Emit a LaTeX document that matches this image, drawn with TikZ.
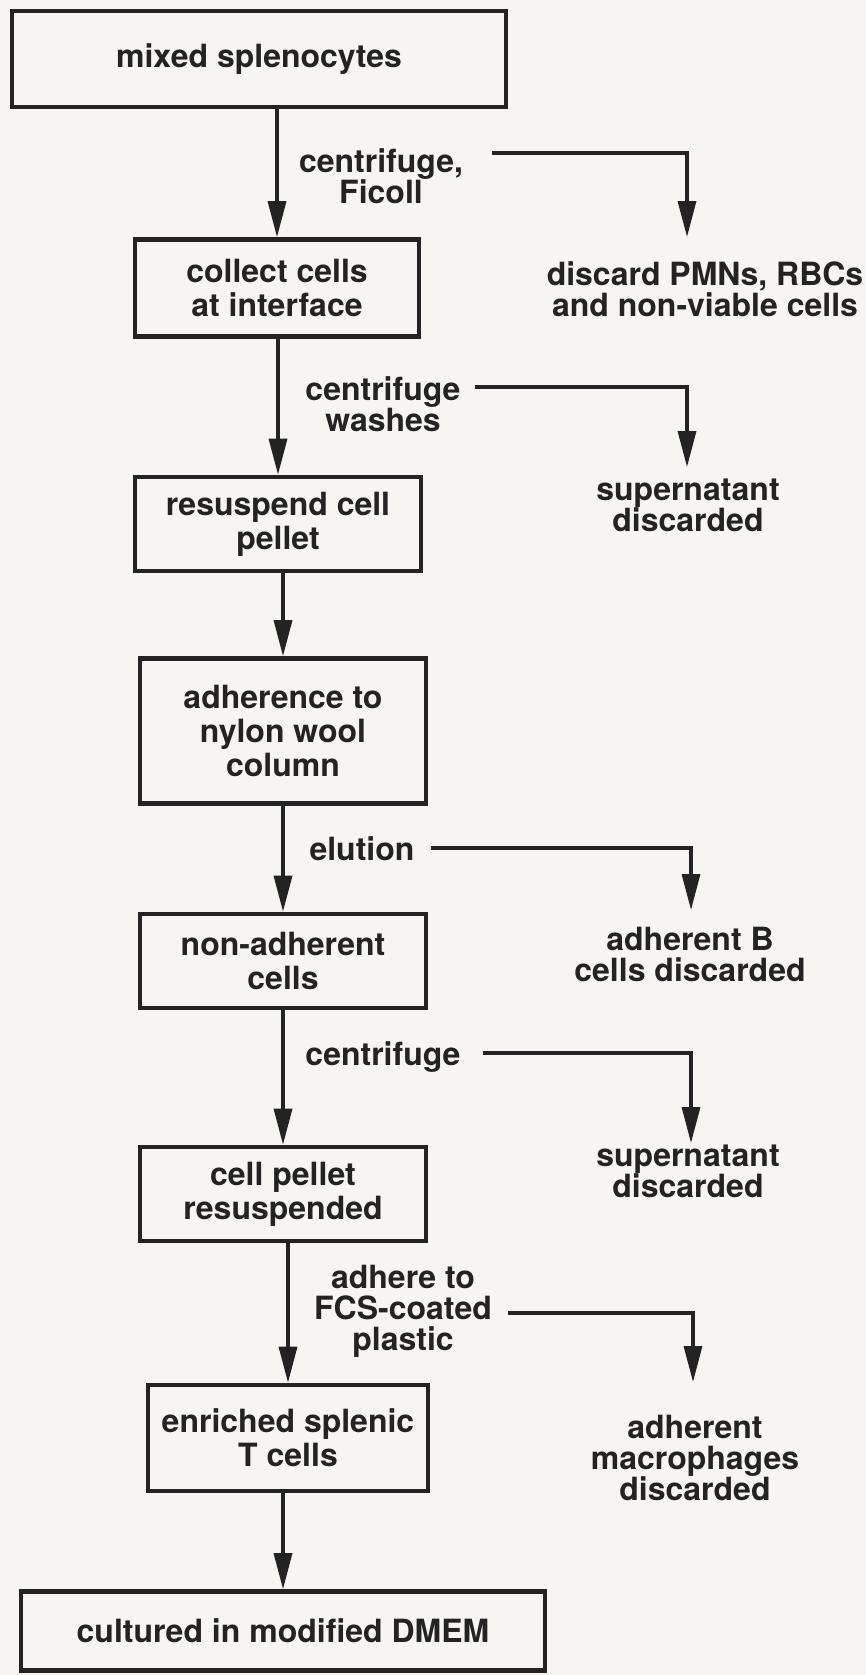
\documentclass[tikz,border=0pt]{standalone}
\usepackage{fontspec}
\setmainfont{TeX Gyre Heros}
\usepackage{xcolor}
\usepackage{tikz}
\usetikzlibrary{arrows.meta}
\definecolor{paper}{RGB}{247,245,241}
\definecolor{ink}{RGB}{35,35,35}
\tikzset{
	box node/.style={draw=ink,line width=2.3pt,align=center,inner sep=0pt,text=ink,
		font=\bfseries\fontsize{16}{17}\selectfont},
	side text/.style={align=center,inner sep=0pt,text=ink,
		font=\bfseries\fontsize{16}{15.5}\selectfont}
}

\begin{document}
\begin{tikzpicture}[x=0.5pt,y=-0.5pt,->,>={Triangle[length=18pt,width=9pt]},
		line width=1.7pt,draw=ink]
	\fill[paper] (0,0) rectangle (866,1675);
	\useasboundingbox (0,0) rectangle (866,1675);
	% main column
	\node [box node,minimum width=247pt,minimum height=48pt] (1) at (259,59) {mixed splenocytes};
	\node [box node,minimum width=142pt,minimum height=48.5pt] (2) at (277,288) {collect cells\\at interface};
	\node [box node,minimum width=143pt,minimum height=47pt] (3) at (278,524) {resuspend cell\\pellet};
	\node [box node,minimum width=143pt,minimum height=72.5pt] (4) at (283,731) {adherence to\\nylon wool\\column};
	\node [box node,minimum width=143pt,minimum height=47pt] (5) at (283,961) {non-adherent\\cells};
	\node [box node,minimum width=143pt,minimum height=47pt] (6) at (283,1194) {cell pellet\\resuspended};
	\node [box node,minimum width=140pt,minimum height=53pt] (7) at (288,1438) {enriched splenic\\T cells};
	\node [box node,minimum width=262pt,minimum height=39.5pt] (8) at (283,1631) {cultured in modified DMEM};
	% steps
	\node [side text] (s1) at (381,176) {centrifuge,\\Ficoll};
	\node [side text] (s2) at (383,404) {centrifuge\\washes};
	\node [side text,anchor=base] (s3) at (362,860) {elution};
	\node [side text,anchor=base] (s4) at (383,1065) {centrifuge};
	\node [side text] (s5) at (403,1311) {adhere to\\FCS-coated\\plastic};
	% discarded
	\node [side text] (d1) at (705,289) {discard PMNs, RBCs\\and non-viable cells};
	\node [side text] (d2) at (688,505) {supernatant\\discarded};
	\node [side text] (d3) at (690,954) {adherent B\\cells discarded};
	\node [side text] (d4) at (688,1171) {supernatant\\discarded};
	\node [side text] (d5) at (695,1458) {adherent\\macrophages\\discarded};
	% branch ends
	\coordinate (a1) at (492,153);  \coordinate (e1) at (687,237);
	\coordinate (a2) at (475,387);  \coordinate (e2) at (687,467);
	\coordinate (a3) at (431,848);  \coordinate (e3) at (691,910);
	\coordinate (a4) at (483,1053); \coordinate (e4) at (691,1143);
	\coordinate (a5) at (508,1313); \coordinate (e5) at (693,1382);

	\foreach \i/\j in {1/2,2/3,3/4,4/5,5/6,6/7,7/8}
		\draw (\j.north |- \i.south) -- (\j.north);
	\foreach \k in {1,...,5}
		\draw [line cap=butt] (a\k) -| (e\k);
\end{tikzpicture}
\end{document}
